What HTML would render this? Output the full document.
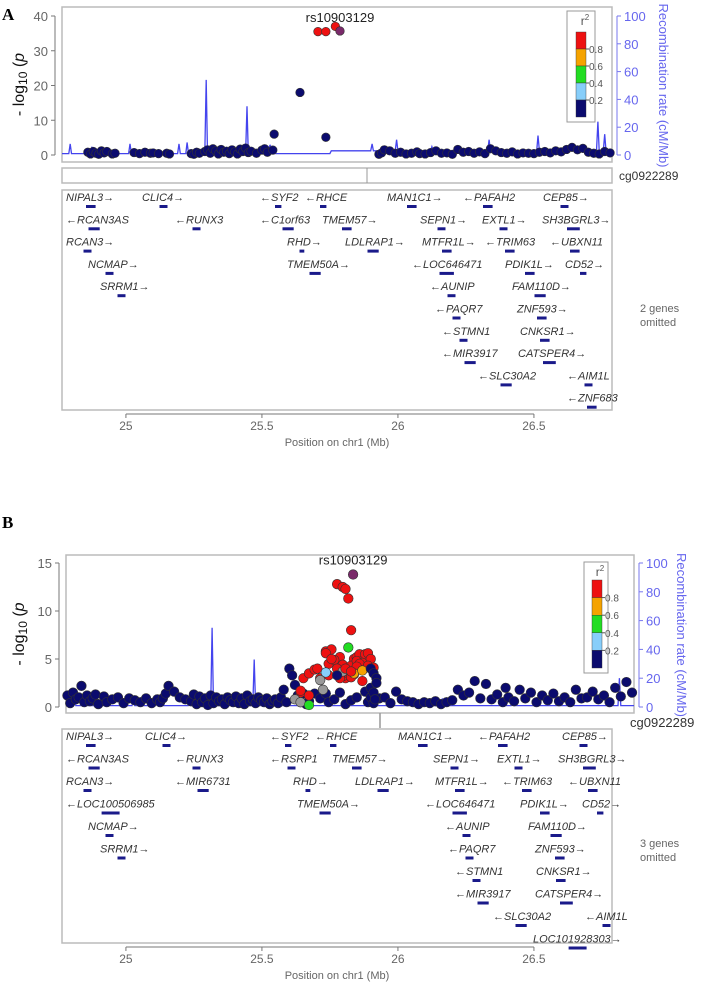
<!DOCTYPE html>
<html><head><meta charset="utf-8">
<style>
body{margin:0;background:#fff;width:708px;height:1002px;overflow:hidden;font-family:"Liberation Sans",sans-serif}
svg{position:absolute;left:0;top:0}
</style></head>
<body>
<svg id="fig" width="708" height="1002" viewBox="0 0 708 1002" xmlns="http://www.w3.org/2000/svg">
<text x="2" y="20" font-family="Liberation Serif" font-weight="bold" font-size="17">A</text>
<text x="2" y="528" font-family="Liberation Serif" font-weight="bold" font-size="17">B</text>
</svg>
<script>
// ---------- DATA ----------
const yTicksA = [0,10,20,30,40];
const yTicksB = [0,5,10,15];
const recTicks = [0,20,40,60,80,100];
const xTicks = [25,25.5,26,26.5];
const legendTicks = ["0.8","0.6","0.4","0.2"];
const r2Colors = ["#0b0b6e","#87cefa","#22dd22","#f5a300","#ee1111","#999999","#7a2a6a"];
const posA = [24.86,24.87,24.88,24.89,24.9,24.91,24.92,24.93,24.95,24.96,25.03,25.05,25.07,25.09,25.1,25.12,25.15,25.16,
25.24,25.25,25.26,25.27,25.29,25.3,25.31,25.32,25.33,25.34,25.35,25.36,25.37,25.38,25.39,25.4,25.41,25.42,25.43,25.44,25.45,25.46,25.48,25.5,25.51,25.52,25.54,25.545,
25.64,25.735,
25.93,25.94,25.95,25.97,25.99,26.01,26.03,26.05,26.07,26.08,26.1,26.12,26.14,26.16,26.18,26.2,26.22,26.24,26.26,26.28,26.3,26.32,26.34,26.36,26.38,26.4,26.42,26.44,26.46,26.48,26.5,26.52,26.54,26.56,26.58,26.6,26.62,26.64,26.66,26.68,26.7,26.72,26.74,26.76,26.78,
25.706,25.735,25.77,25.787];
const pA = [0.8,0.3,1,0.5,0.2,1.2,0.6,1,0.3,0.5,0.7,0.4,0.8,0.5,0.6,0.4,0.5,0.3,
0.4,0.2,0.8,0.5,1.0,1.5,0.5,1.8,1.2,0.3,1.6,0.8,1.1,0.4,1.5,0.9,0.3,1.7,1.0,2.0,0.7,1.1,0.5,1.4,1.8,0.8,1.4,6,
18,5.1,
0.2,0.6,1.5,1.2,0.5,0.8,0.3,0.5,0.9,0.4,0.3,0.7,1.2,0.5,0.6,0.2,1.6,0.8,1.0,0.5,0.9,0.4,1.8,1.2,0.7,0.5,0.9,0.3,0.6,0.5,0.4,0.8,1.0,0.6,1.2,0.9,1.6,2.2,1.5,1.9,0.8,0.5,0.3,1.0,0.6,
35.5,35.5,37,35.7];
const rA = [0,0,0,0,0,0,0,0,0,0,0,0,0,0,0,0,0,0,
0,0,0,0,0,0,0,0,0,0,0,0,0,0,0,0,0,0,0,0,0,0,0,0,0,0,0,0,
0,0,
0,0,0,0,0,0,0,0,0,0,0,0,0,0,0,0,0,0,0,0,0,0,0,0,0,0,0,0,0,0,0,0,0,0,0,0,0,0,0,0,0,0,0,0,0,
4,4,4,6];
const recPosA = [24.765,24.79,24.795,24.8,24.87,24.875,24.88,25.01,25.015,25.02,25.19,25.195,25.2,25.22,25.225,25.23,25.29,25.295,25.3,25.44,25.445,25.45,25.5,25.505,25.51,25.53,25.55,25.57,25.75,25.755,25.76,25.85,25.9,25.905,25.91,25.99,25.995,26.0,26.12,26.125,26.13,26.33,26.335,26.34,26.51,26.515,26.52,26.73,26.735,26.74,26.755,26.76,26.765,26.787];
const recA = [1,1,8,1,1,6,1,1,8,1,1,8,1,1,9,1,1,54,1,1,35,1,1,7,1,7,1,1,1,3,3,3,3,8,3,3,11,3,3,6,3,3,11,3,3,14,3,3,24,3,3,15,3,3];
const posB = [24.77,24.78,24.79,24.8,24.81,24.82,24.83,24.84,24.85,24.86,24.87,24.88,24.9,24.91,24.93,24.95,24.97,24.99,25.01,25.03,25.05,25.07,25.09,25.1,25.11,25.12,25.13,25.15,25.17,25.19,25.21,25.22,25.23,25.24,25.25,25.26,25.27,25.28,25.29,25.3,25.31,25.32,25.33,25.34,25.35,25.36,25.37,25.38,25.39,25.4,25.41,25.42,25.43,25.44,25.45,25.46,25.47,25.48,25.49,25.5,25.51,25.52,25.53,25.54,25.55,25.56,25.57,25.58,25.59,25.6,25.61,25.62,25.63,25.65,25.67,25.69,25.7,25.72,25.74,25.76,25.78,25.8,25.83,25.84,25.85,25.86,
25.88,25.9,25.92,25.94,25.96,25.98,26.0,26.02,26.04,26.06,26.08,26.1,26.12,26.14,26.16,26.18,26.2,26.22,26.24,26.26,26.28,26.3,26.32,26.33,26.34,26.36,26.38,26.4,26.42,26.44,26.46,26.48,26.5,26.52,26.54,26.56,26.58,26.6,26.62,26.64,26.66,26.68,26.7,26.72,26.74,26.76,26.78,
25.6,25.61,25.63,25.65,25.66,25.6,25.63,25.67,25.69,25.71,25.73,25.74,25.75,25.76,25.77,25.78,25.79,25.8,25.81,25.82,25.83,25.84,25.85,25.7,25.72,25.75,25.78,25.8,25.82,25.76,25.79,25.69,25.71,25.75,25.81,25.73,25.76,25.77,25.8,25.84,25.86,25.7,25.74,25.78,25.82,
25.58,25.67,25.69,25.68,25.75,25.6,25.63,25.79,25.82,
25.85,25.86,25.87,25.85,25.86,25.865,25.87,
25.73,25.76,25.77,25.78,25.787];
const pB = [1.2,0.4,1.5,0.8,1.0,2.2,0.5,1.2,0.6,0.9,1.3,0.3,1.1,0.5,0.8,1.0,0.4,0.9,0.7,0.5,0.9,0.4,0.8,0.5,0.9,1.4,2.2,1.6,1.0,0.8,0.6,1.3,0.3,1.1,0.5,0.9,0.2,1.2,0.4,1.0,0.6,0.8,0.3,1.0,0.7,0.5,1.1,0.4,0.9,0.3,1.2,0.6,0.8,0.4,1.0,0.7,0.5,0.9,0.3,0.6,0.8,0.4,1.0,1.8,0.5,4.0,3.3,2.3,1.2,0.5,1.4,0.3,0.6,1.4,0.9,1.4,0.5,0.8,1.5,0.3,0.7,1.0,1.6,0.5,1.0,0.4,
0.9,1.0,0.4,1.6,0.8,0.6,0.5,0.3,0.5,0.4,0.6,0.3,0.5,0.7,1.8,1.2,1.5,2.7,0.9,2.4,0.8,1.3,0.5,2.0,1.0,0.6,1.8,0.9,1.5,0.5,1.2,0.7,1.4,0.6,1.0,0.5,1.8,0.9,1.0,1.6,0.8,1.2,0.5,2.0,1.1,2.6,1.5,
1.5,3.0,3.5,3.9,4.0,1.7,1.2,3.0,5.8,6.0,12.8,5.2,12.5,12.3,11.3,8.0,5.0,5.2,5.5,4.8,5.5,5.6,5.0,4.5,4.9,4.4,4.3,4.8,4.6,3.0,3.4,5.6,5.0,3.2,4.5,4.0,3.8,3.5,4.2,4.3,4.1,3.3,3.0,3.1,2.7,
0.8,2.8,3.6,1.8,3.7,0.5,0.2,3.5,3.8,
4.0,3.5,3.0,2.0,1.5,0.8,2.5,
3.3,4.0,6.2,3.7,13.8];
const rB = [];
for (let i=0;i<posB.length;i++) rB.push(0);
const rBTail = [4,4,4,4,4,4,4,4,4,4,4,4,4,4,4,4,4,4,4,4,4,4,4,4,4,4,4,4,4,4,4,4,4,4,4,4,4,4,4,4,4,4,4,4,4,
5,5,1,5,5,5,2,3,3,
0,0,0,0,0,0,0,
0,4,2,4,6];
const recPosB = [24.765,24.79,24.795,24.8,25.0,25.005,25.01,25.08,25.085,25.09,25.2,25.205,25.21,25.28,25.285,25.29,25.43,25.435,25.44,25.6,25.605,25.61,25.86,26.1,26.105,26.11,26.35,26.355,26.36,26.73,26.735,26.74,26.787];
const recB = [1,1,9,1,1,6,1,1,8,1,1,5,1,1,55,1,1,33,1,1,5,1,1,1,6,1,1,5,1,1,20,1,1];
const genesA = [["NIPAL3→",66,0],["CLIC4→",142,0],["←SYF2",260,0],["←RHCE",305,0],["MAN1C1→",387,0],["←PAFAH2",463,0],["CEP85→",543,0],
["←RCAN3AS",66,1],["←RUNX3",175,1],["←C1orf63",260,1],["TMEM57→",322,1],["SEPN1→",420,1],["EXTL1→",482,1],["SH3BGRL3→",542,1],
["RCAN3→",66,2],["RHD→",287,2],["LDLRAP1→",345,2],["MTFR1L→",422,2],["←TRIM63",485,2],["←UBXN11",550,2],
["NCMAP→",88,3],["TMEM50A→",287,3],["←LOC646471",412,3],["PDIK1L→",505,3],["CD52→",565,3],
["SRRM1→",100,4],["←AUNIP",430,4],["FAM110D→",512,4],
["←PAQR7",435,5],["ZNF593→",517,5],["←STMN1",442,6],["CNKSR1→",520,6],
["←MIR3917",442,7],["CATSPER4→",518,7],["←SLC30A2",478,8],["←AIM1L",567,8],["←ZNF683",567,9]];
const genesB = [["NIPAL3→",66,0],["CLIC4→",145,0],["←SYF2",270,0],["←RHCE",315,0],["MAN1C1→",398,0],["←PAFAH2",478,0],["CEP85→",562,0],
["←RCAN3AS",66,1],["←RUNX3",175,1],["←RSRP1",270,1],["TMEM57→",332,1],["SEPN1→",433,1],["EXTL1→",497,1],["SH3BGRL3→",558,1],
["RCAN3→",66,2],["←MIR6731",175,2],["RHD→",293,2],["LDLRAP1→",355,2],["MTFR1L→",435,2],["←TRIM63",502,2],["←UBXN11",568,2],
["←LOC100506985",66,3],["TMEM50A→",297,3],["←LOC646471",425,3],["PDIK1L→",520,3],["CD52→",582,3],
["NCMAP→",88,4],["←AUNIP",445,4],["FAM110D→",528,4],
["SRRM1→",100,5],["←PAQR7",448,5],["ZNF593→",535,5],["←STMN1",455,6],["CNKSR1→",536,6],
["←MIR3917",455,7],["CATSPER4→",535,7],["←SLC30A2",493,8],["←AIM1L",585,8],["LOC101928303→",533,9]];

// ---------- DRAW ----------
const NS="http://www.w3.org/2000/svg";
const svg=document.getElementById('fig');
function el(tag,attrs,parent,txt){const e=document.createElementNS(NS,tag);for(const k in attrs)e.setAttribute(k,attrs[k]);if(txt!==undefined)e.textContent=txt;(parent||svg).appendChild(e);return e;}
const X0=24.765,X1=26.787;
for(let i=0;i<rBTail.length;i++) rB[posB.length-rBTail.length+i]=rBTail[i];

function panel(cfg){
  const g=el('g',{});
  
  
  const {L,R,T,B,yMax,yTop,y0}=cfg;
  const sx=v=>L+(v-X0)/(X1-X0)*(R-L);
  const sy=v=>y0-v/yMax*(y0-yTop);
  const sr=v=>y0-v/100*(y0-yTop);
  const box=el('rect',{x:L,y:T,width:R-L,height:B-T,fill:'none',stroke:'#bbb','stroke-width':1.5},g);
  
  
  const ya=el('g',{},g);
  
  
  el('line',{x1:L-7,x2:L-7,y1:sy(cfg.yTicks[0]),y2:sy(cfg.yTicks[cfg.yTicks.length-1]),stroke:'#777'},ya);
  cfg.yTicks.forEach(t=>{el('line',{x1:L-11,x2:L-7,y1:sy(t),y2:sy(t),stroke:'#777'},ya);
    const tx=el('text',{x:L-14,y:sy(t)+5,'text-anchor':'end','font-size':13,fill:'#666'},ya,t);
    
    });
  const yt=el('text',{transform:`translate(${cfg.ytx},${(T+B)/2}) rotate(-90)`,'text-anchor':'middle','font-size':16,fill:'#111'},g);
  
  
  el('tspan',{},yt,'- log');el('tspan',{'font-size':12,dy:3},yt,'10');el('tspan',{dy:-3},yt,' (');el('tspan',{'font-style':'italic'},yt,'p');
  const ra=el('g',{},g);
  
  
  el('line',{x1:R+5,x2:R+5,y1:sr(0),y2:sr(100),stroke:'#77e'},ra);
  recTicks.forEach(t=>{el('line',{x1:R+5,x2:R+9,y1:sr(t),y2:sr(t),stroke:'#77e'},ra);
    const tx=el('text',{x:R+12,y:sr(t)+5,'font-size':13,fill:'#6666ee'},ra,t);
    
    });
  const rt=el('text',{transform:`translate(${cfg.rtx},${(sr(0)+sr(100))/2}) rotate(90)`,'text-anchor':'middle','font-size':13,fill:'#6666ee'},g,'Recombination rate (cM/Mb)');
  
  
  let d='';cfg.recPos.forEach((p,i)=>{d+=(i?'L':'M')+sx(p).toFixed(1)+','+sr(cfg.rec[i]).toFixed(1);});
  const rl=el('path',{d:d,fill:'none',stroke:'#4444ee','stroke-width':1.3},g);
  
  
  const pts=el('g',{},g);
  
  
  cfg.pos.forEach((p,i)=>{const c=el('circle',{cx:sx(p),cy:sy(cfg.p[i]),r:cfg.rad,fill:r2Colors[cfg.r[i]],stroke:'#333','stroke-width':0.6},pts);
    
    });
  const li=cfg.r.indexOf(6);
  const lt=el('text',{x:sx(cfg.pos[li]),y:sy(cfg.p[li])-cfg.lblOff,'text-anchor':'middle','font-size':13,fill:'#222'},g,'rs10903129');
  
  
  const lg=el('g',{},g);
  
  
  const [lx,ly,lw,lh,bx,by,bh]=cfg.leg;
  el('rect',{x:lx,y:ly,width:lw,height:lh,fill:'#fff',stroke:'#999'},lg);
  const lt2=el('text',{x:lx+lw/2+4,y:ly+14,'text-anchor':'middle','font-size':12,fill:'#555'},lg);
  el('tspan',{},lt2,'r');el('tspan',{'font-size':8,dy:-5},lt2,'2');
  const cols=[4,3,2,1,0];
  cols.forEach((c,i)=>el('rect',{x:bx,y:by+i*bh/5,width:10,height:bh/5,fill:r2Colors[c],stroke:'#333','stroke-width':0.4},lg));
  legendTicks.forEach((t,i)=>{el('line',{x1:bx+10,x2:bx+13,y1:by+(i+1)*bh/5,y2:by+(i+1)*bh/5,stroke:'#555'},lg);
    el('text',{x:bx+13,y:by+(i+1)*bh/5+4,'font-size':10,fill:'#555'},lg,t);});
}

function genes(cfg){
  const g=el('g',{});
  
  
  const sx=v=>62+(v-X0)/(X1-X0)*550;
  const fr=el('rect',{x:62,y:cfg.T,width:550,height:cfg.B-cfg.T,fill:'none',stroke:'#bbb','stroke-width':1.5},g);
  
  
  cfg.list.forEach(([name,x,row])=>{
    const y=cfg.r0+row*cfg.dr;
    const t=el('text',{x:x,y:y,'font-size':11,'font-style':'italic',fill:'#333'},g,name);
    
    
    const clean=name.replace(/[←→ ]/g,'');
    const w=Math.min(18,Math.max(3,clean.length*1.6));
    const tw=clean.length*6.6+10;
    el('rect',{x:x+tw/2-w/2,y:y+4,width:w,height:3,fill:'#1a1a8a'},g);
  });
  const om=el('text',{x:640,y:cfg.omY,'font-size':11,fill:'#666'},g);
  
  
  el('tspan',{x:640},om,cfg.om);el('tspan',{x:640,dy:14},om,'omitted');
  const xa=el('g',{},g);
  
  
  el('line',{x1:sx(25),x2:sx(26.5),y1:cfg.B+4,y2:cfg.B+4,stroke:'#777'},xa);
  xTicks.forEach(t=>{el('line',{x1:sx(t),x2:sx(t),y1:cfg.B+4,y2:cfg.B+8,stroke:'#777'},xa);
    const tx=el('text',{x:sx(t),y:cfg.B+20,'text-anchor':'middle','font-size':12,fill:'#666'},xa,t);
    
    });
  const xt=el('text',{x:337,y:cfg.B+36,'text-anchor':'middle','font-size':11,fill:'#666'},g,'Position on chr1 (Mb)');
  
  
}

panel({name:'panel-a-plot',L:62,R:612,T:7,B:162,yMax:40,yTop:16,y0:155,yTicks:yTicksA,ytx:24,rtx:659,
  pos:posA,p:pA,r:rA,rad:4.3,recPos:recPosA,rec:recA,lblOff:9,leg:[567,11,28,111,576,32,85]});
panel({name:'panel-b-plot',L:66,R:634,T:555,B:713,yMax:15,yTop:563,y0:707,yTicks:yTicksB,ytx:24,rtx:677,
  pos:posB,p:pB,r:rB,rad:4.8,recPos:recPosB,rec:recB,lblOff:10,leg:[584,562,24,111,592,580,88]});

const cgA=el('g',{});


el('rect',{x:62,y:168,width:550,height:15,fill:'none',stroke:'#bbb','stroke-width':1.5},cgA);
el('line',{x1:367,x2:367,y1:168,y2:183,stroke:'#999'},cgA);
el('text',{x:619,y:180,'font-size':12,fill:'#333'},cgA,'cg0922289');
const cgB=el('g',{});


el('line',{x1:380,x2:380,y1:713,y2:728,stroke:'#999','stroke-width':1.5},cgB);
el('text',{x:630,y:727,'font-size':13,fill:'#333'},cgB,'cg0922289');

genes({name:'gene-track-a',T:190,B:410,r0:201,dr:22.3,list:genesA,om:'2 genes',omY:312});
genes({name:'gene-track-b',T:729,B:943,r0:740,dr:22.5,list:genesB,om:'3 genes',omY:847});
</script>
</body></html>
